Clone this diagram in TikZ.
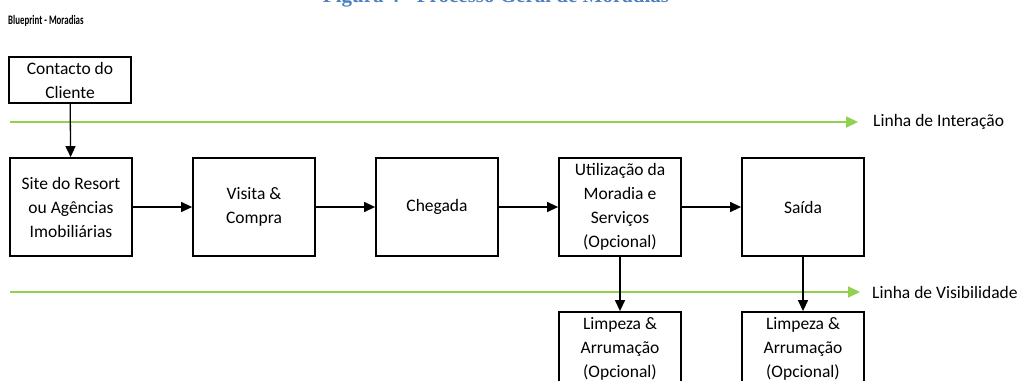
\documentclass[tikz,border=0pt]{standalone}
\usepackage{fontspec}
\setmainfont{Carlito}
\newfontfamily\capfont{Liberation Serif}
\usetikzlibrary{arrows.meta}
\definecolor{linegreen}{RGB}{146,208,80}
\definecolor{capblue}{RGB}{79,129,189}

\begin{document}
\begin{tikzpicture}[x=1pt,y=-1pt,
        box/.style={draw, line width=1.8pt, minimum width=122pt, minimum height=98pt,
            align=center, inner sep=2pt, font=\fontsize{17.5}{24}\selectfont},
        flow/.style={-{Triangle[length=11pt,width=10pt]}, line width=1.3pt},
        level/.style={-{Triangle[length=12pt,width=11pt]}, line width=2pt, linegreen},
        lbl/.style={anchor=west, inner sep=0pt, font=\fontsize{17.5}{24}\selectfont}]
        \clip (0,0) rectangle (1019,380);

        \node[anchor=base, inner sep=0pt, text=capblue,
            font=\capfont\bfseries\fontsize{21}{24}\selectfont] (fig) at (496,2) {Figura 4 - Processo Geral de Moradias};
        \node[anchor=base west, inner sep=0pt, font=\bfseries\fontsize{13}{15}\selectfont] (bp) at (8,24)
            {\scalebox{0.68}[1]{Blueprint - Moradias}};

        % lines of interaction and visibility
        \coordinate (i0) at (10,122);
        \coordinate (i1) at (858,122);
        \coordinate (v0) at (10,292);
        \coordinate (v1) at (860,292);
        \draw[level] (i0) -- (i1);
        \draw[level] (v0) -- (v1);
        \node[lbl] (li) at (873,122) {Linha de Interação};
        \node[lbl] (lv) at (872,292) {Linha de Visibilidade};

        \node[box, minimum height=46pt] (C) at (70,80) {Contacto do\\Cliente};
        \node[box] (S) at (71,207) {Site do Resort\\ou Agências\\Imobiliárias};
        \node[box] (V) at (254,207) {Visita \&\\Compra};
        \node[box] (Ch) at (437,207) {Chegada};
        \node[box] (U) at (620,207) {Utilização da\\Moradia e\\Serviços\\(Opcional)};
        \node[box] (Sa) at (803,207) {Saída};
        \node[box, minimum height=74pt] (LU) at (620,349) {Limpeza \&\\Arrumação\\(Opcional)};
        \node[box, minimum height=74pt] (LS) at (803,349) {Limpeza \&\\Arrumação\\(Opcional)};

        \draw[flow] (C) -- (S);
        \draw[flow] (S) -- (V);
        \draw[flow] (V) -- (Ch);
        \draw[flow] (Ch) -- (U);
        \draw[flow] (U) -- (Sa);
        \draw[flow] (U) -- (LU);
        \draw[flow] (Sa) -- (LS);
    \end{tikzpicture}
\end{document}
